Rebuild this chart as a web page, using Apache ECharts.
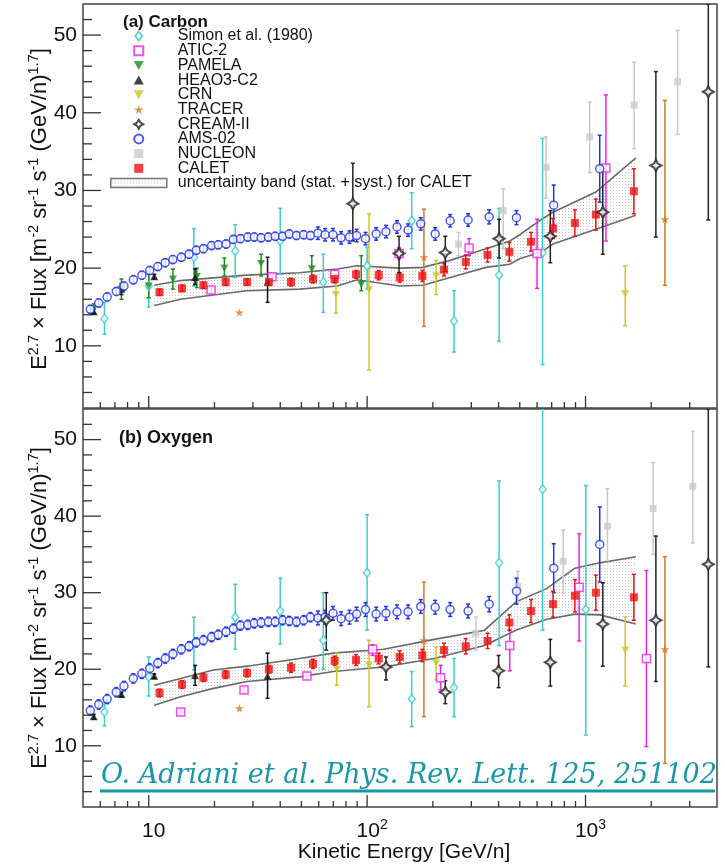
<!DOCTYPE html>
<html><head><meta charset="utf-8">
<script src="https://cdn.jsdelivr.net/npm/echarts@6/dist/echarts.min.js"></script>
<style>html,body{margin:0;padding:0;background:#fff}#c{width:725px;height:865px}</style>
</head><body><div id="c"></div>
<script>
// ---------- DATA ----------
// AMS-02 energies (GeV/n), shared by both panels
const amsE = [5.4,5.9,6.45,7.1,7.7,8.5,9.3,10.1,11.0,11.9,12.9,14.1,15.3,16.5,17.8,19.4,20.8,22.6,24.4,26.3,28.4,30.4,32.7,35.3,37.9,41.0,44.0,47.5,51.2,55.0,59.5,64.2,69.8,76,83,89.5,98.3,110,122,137,154,176,205,240,290,362,483,715,1162];
const amsC = [14.7,15.5,16.3,17.0,17.7,18.5,19.1,19.7,20.2,20.7,21.1,21.4,21.8,22.3,22.5,22.9,23.0,23.1,23.7,23.8,24.0,24.0,23.9,24.0,24.1,24.1,24.4,24.2,24.3,24.2,24.5,24.3,24.3,23.9,24.0,24.2,23.8,24.4,24.7,25.3,24.9,25.7,24.4,26.1,26.2,26.6,26.5,28.1,32.8];
const amsCerr = [0.5,0.5,0.5,0.5,0.5,0.5,0.5,0.5,0.5,0.5,0.5,0.5,0.5,0.5,0.5,0.5,0.5,0.5,0.5,0.5,0.5,0.5,0.5,0.5,0.5,0.5,0.5,0.5,0.5,0.5,0.8,0.8,0.8,0.8,0.8,0.8,0.8,0.8,0.8,0.8,0.8,0.8,0.8,0.8,0.8,0.9,0.9,2.6,4.3];
const amsO = [14.6,15.4,16.1,17.0,17.8,18.8,19.4,20.1,20.8,21.4,22.0,22.6,23.0,23.5,23.8,24.2,24.5,24.9,25.3,25.7,25.8,26.0,26.1,26.2,26.2,26.4,26.3,26.2,26.4,26.8,26.7,26.8,27.3,26.6,26.8,27.2,27.8,27.2,27.3,27.5,27.5,28.2,28.1,27.8,27.6,28.5,30.2,33.2,36.3];
const amsOerr = [0.6,0.6,0.6,0.6,0.6,0.6,0.6,0.6,0.6,0.6,0.6,0.6,0.6,0.6,0.6,0.6,0.6,0.6,0.6,0.6,0.6,0.6,0.6,0.6,0.6,0.6,0.6,0.6,0.6,0.6,0.9,0.9,0.9,0.9,0.9,0.9,0.9,0.9,0.9,0.9,0.9,0.9,0.9,0.9,0.9,1.0,1.7,3.2,4.9];

// CALET
const caletE = [11.2,14.2,17.8,22.5,28.2,35.5,44.8,56.5,71,89,113,141,179,225,283,356,448,563,710,894,1115,1665];
const caletC = [16.9,17.4,17.8,18.2,18.2,18.2,18.2,18.6,18.6,19.2,19.1,18.8,19.0,19.8,20.8,21.7,22.1,23.4,25.1,25.8,26.9,29.9];
const caletCerr = [0.4,0.4,0.4,0.4,0.4,0.4,0.5,0.5,0.5,0.5,0.6,0.6,0.7,0.8,0.9,0.9,1.2,1.2,1.3,1.7,2.0,2.9];
const caletO = [16.9,18.0,18.9,19.3,19.5,20.0,20.2,20.7,21.1,21.2,21.4,21.6,21.8,22.5,23.0,23.7,26.1,27.6,28.5,29.6,30.0,29.4];
const caletOerr = [0.5,0.5,0.5,0.5,0.5,0.5,0.6,0.6,0.6,0.7,0.7,0.8,0.8,0.9,1.0,1.0,1.0,1.5,1.7,2.1,2.3,3.0];

// CALET uncertainty bands
const bandCE = [10.6,14,28,49,73,90,141,180,240,350,450,500,630,710,1115,1700];
const bandClo = [15.2,16.0,17.1,17.3,17.7,18.5,17.7,17.8,18.8,20.1,20.5,21.2,22.1,23.1,25.0,26.8];
const bandChi = [17.8,18.4,19.1,19.4,19.9,20.3,20.0,20.1,21.0,22.5,23.5,24.3,26.3,27.2,29.8,34.2];
const bandOE = [10.6,14,19.8,28.2,49,70,119,203,345,480,660,894,1162,1700];
const bandOlo = [15.3,16.4,17.5,18.4,19.0,19.7,20.3,21.4,23.1,25.1,26.5,27.2,27.1,25.9];
const bandOhi = [17.9,18.8,19.9,20.4,21.4,22.1,22.6,23.9,25.1,28.8,30.5,33.2,33.9,34.7];

// Simon et al. (1980)
const simonCE = [6.27,10,16.1,24.9,40,63,100,160,250,402,636];
const simonC = [13.5,17.7,21.4,22.2,23.5,18.2,20.3,26.1,13.2,19.1,22.0];
const simonClo = [11.5,15.0,17.7,18.8,19.2,14.3,17.3,22.5,9.2,10.6,7.6];
const simonChi = [15.6,19.6,25.1,25.6,27.7,21.8,22.7,29.7,17.1,27.7,36.7];
const simonOE = [6.27,10,16.1,24.9,40,63,100,160,250,402,636,1003];
const simonO = [14.4,19.0,23.4,26.8,27.6,23.8,32.6,16.1,17.6,33.9,43.5,27.8];
const simonOlo = [12.6,16.5,19.9,22.6,23.3,20.0,25.1,12.5,13.8,23.1,25.1,11.4];
const simonOhi = [16.2,21.6,26.8,31.1,31.9,30.0,40.2,19.7,21.4,44.6,60,44.0];

// ATIC-2
const aticCE = [19.3,36.7,71,140,293,600,1240];
const aticC = [17.2,18.9,19.2,21.9,22.6,21.9,32.9];
const aticClo = [16.8,18.5,18.7,21.2,21.6,17.4,23.5];
const aticChi = [17.6,19.3,19.7,22.6,23.8,26.3,42.3];
const aticOE = [14,27.3,53,106,217,450,935,1900];
const aticO = [14.4,17.3,19.1,22.6,18.9,23.1,30.7,21.4];
const aticOlo = [14.0,16.9,18.7,21.8,17.3,19.8,23.7,9.9];
const aticOhi = [14.8,17.7,19.5,23.2,20.5,25.1,37.7,32.9];

// PAMELA (carbon only)
const pamelaCE = [5.6,7.5,10,12.9,16.6,22.2,32.7,55.8,94];
const pamelaC = [14.8,17.3,17.7,18.6,18.9,20.0,20.6,19.9,17.9];
const pamelaClo = [14.2,16.0,16.2,17.3,17.5,19.0,19.0,18.6,17.1];
const pamelaChi = [15.4,18.6,19.2,19.9,20.0,21.3,21.8,21.6,21.6];

// HEAO3-C2
const heaoE = [5.6,7.5,10.6,16.3,35];
const heaoC = [14.4,17.3,18.9,18.8,18.2];
const heaoClo = [14.1,16.6,18.6,17.9,15.6];
const heaoChi = [14.7,18.0,19.2,19.9,21.4];
const heaoO = [13.8,16.7,19.1,19.2,19.1];
const heaoOlo = [13.5,16.4,18.8,17.9,16.2];
const heaoOhi = [14.1,17.0,19.4,20.5,22.1];

// CRN
const crnCE = [72,102,207,1520];
const crnC = [16.6,17.2,19.0,16.7];
const crnClo = [14.2,6.9,16.6,12.6];
const crnChi = [19.3,27.0,21.0,20.3];
const crnOE = [72.6,102,207,1520];
const crnO = [20.0,20.5,20.8,22.5];
const crnOlo = [17.9,15.1,18.6,17.8];
const crnOhi = [22.1,23.8,22.9,26.8];

// TRACER
const tracerE = [26,182,2310];
const tracerC = [14.3,21.4,26.3];
const tracerClo = [14.3,12.5,17.8];
const tracerChi = [14.3,27.6,41.6];
const tracerO = [14.9,23.8,22.6];
const tracerOlo = [14.9,13.8,7.7];
const tracerOhi = [14.9,31.4,34.7];

// CREAM-II
const creamCE = [86,140,228,402,690,1200,2100,3650];
const creamC = [28.3,21.9,22.0,23.8,24.1,27.2,33.2,42.7];
const creamClo = [23.5,19.4,19.6,21.3,20.7,21.8,24.0,26.2];
const creamChi = [33.5,24.1,24.1,26.3,27.4,32.6,45.3,60];
const creamOE = [65,122,228,400,690,1200,2100,3650];
const creamO = [26.4,20.3,17.0,19.8,20.9,25.9,26.4,33.7];
const creamOlo = [22.5,18.6,15.5,17.6,17.8,20.4,18.4,20.3];
const creamOhi = [30.0,21.6,18.5,21.8,23.9,31.3,37.4,60];

// NUCLEON
const nucCE = [262,420,660,1045,1670,2640];
const nucC = [23.1,27.4,33.0,36.9,41.0,44.0];
const nucClo = [21.6,22.5,29.0,32.3,35.4,37.2];
const nucChi = [24.6,30.2,36.9,41.4,46.5,50.6];
const nucOE = [315,490,790,1260,2040,3100];
const nucO = [24.7,30.8,34.1,38.7,41.0,43.9];
const nucOlo = [22.5,28.8,29.9,34.2,35.0,36.5];
const nucOhi = [26.8,32.8,38.2,43.6,47.0,51.1];

// axis tick values
const xMajorTicks = [10,100,1000];
const xMinorTicks = [6,7,8,9,20,30,40,50,60,70,80,90,200,300,400,500,600,700,800,900,2000,3000];
const yMajorTicks = [10,20,30,40,50];
const yMinorTicks = [4,6,8,12,14,16,18,22,24,26,28,32,34,36,38,42,44,46,48,52];

// ---------- CHART ----------
const FONT = 'Liberation Sans, Arial, Helvetica, sans-serif';
const yMin = 2, yMax = 54, xMin = 5, xMax = 4000;
const BAND = 'uncertainty band (stat. + syst.) for CALET';

const pc = document.createElement('canvas');
pc.width = 3; pc.height = 3;
(function(){ const c = pc.getContext('2d'); c.fillStyle = '#ffffff'; c.fillRect(0,0,3,3); c.fillStyle = '#c6c6c6'; c.fillRect(1,1,1,1); })();
const dotFill = {image: pc, repeat: 'repeat'};

const ST = {
  simon:  {sym:'path://M5,0 L10,6.5 L5,13 L0,6.5 Z', size:9, color:'#3fcccc', open:true},
  atic:   {sym:'path://M0,0 L10,0 L10,10 L0,10 Z', size:8, color:'#ee22ee', open:true},
  pamela: {sym:'path://M0,0 L10,0 L5,9 Z', size:8, color:'#1e8c1e'},
  heao:   {sym:'path://M5,0 L10,9 L0,9 Z', size:8, color:'#111111'},
  crn:    {sym:'path://M0,0 L10,0 L5,9 Z', size:8, color:'#c8c82a'},
  tracer: {sym:'path://M50,0 L61,35 L98,35 L68,57 L79,91 L50,70 L21,91 L32,57 L2,35 L39,35 Z', size:9, color:'#d4782a'},
  cream:  {sym:'path://M50,0 L68,32 L100,50 L68,68 L50,100 L32,68 L0,50 L32,32 Z', size:11, color:'#222222', open:true, bw:2},
  ams:    {sym:'circle', size:8, color:'#2233dd', open:true},
  nuc:    {sym:'path://M0,0 L10,0 L10,10 L0,10 Z', size:7, color:'#c9c9c9'},
  calet:  {sym:'path://M0,0 L10,0 L10,10 L0,10 Z', size:8, color:'#ee1111'}
};

function sym(v, err, s){ return v.map((x,i)=>+(x + s*err[i]).toFixed(2)); }

function errSeries(g, E, lo, hi, color, w) {
  return {type:'custom', xAxisIndex:g, yAxisIndex:g, silent:true, clip:true, z:3,
    data: E.map((e,i)=>[e, lo[i], hi[i]]), encode:{x:0, y:[1,2]},
    renderItem:(p, api)=>{
      const e = api.value(0), a = Math.max(api.value(1), yMin), b = Math.min(api.value(2), yMax);
      if (b - a < 0.05) return null;
      const p1 = api.coord([e,a]), p2 = api.coord([e,b]), c = 2;
      const st = {stroke:color, lineWidth:w};
      return {type:'group', children:[
        {type:'line', shape:{x1:p1[0],y1:p1[1],x2:p2[0],y2:p2[1]}, style:st},
        {type:'line', shape:{x1:p1[0]-c,y1:p1[1],x2:p1[0]+c,y2:p1[1]}, style:st},
        {type:'line', shape:{x1:p2[0]-c,y1:p2[1],x2:p2[0]+c,y2:p2[1]}, style:st}
      ]};
    }};
}

function dataset(g, name, E, v, lo, hi, st) {
  return [errSeries(g, E, lo, hi, st.color, 1.5),
    {type:'scatter', name:name, xAxisIndex:g, yAxisIndex:g, symbol:st.sym, symbolSize:st.size, symbolKeepAspect:true,
     itemStyle: st.open ? {color:'#ffffff', borderColor:st.color, borderWidth:st.bw||1.5} : {color:st.color, borderWidth:0},
     data: E.map((e,i)=>[e, v[i]]), z:4}];
}

function bandSeries(g, E, lo, hi) {
  return {type:'custom', name:BAND, xAxisIndex:g, yAxisIndex:g, silent:true, z:2,
    data: E.map((e,i)=>[e, lo[i], hi[i]]), encode:{x:0, y:[1,2]},
    renderItem:(p, api)=>{
      if (p.dataIndex !== 0) return null;
      const up = E.map((e,i)=>api.coord([e, hi[i]]));
      const dn = E.map((e,i)=>api.coord([e, lo[i]]));
      const ls = {stroke:'#6a6a6a', lineWidth:1.6, fill:null};
      return {type:'group', children:[
        {type:'polygon', shape:{points: up.concat(dn.slice().reverse())}, style:{fill:dotFill, stroke:null}},
        {type:'polyline', shape:{points:up}, style:ls},
        {type:'polyline', shape:{points:dn}, style:ls}
      ]};
    }};
}

function tickSeries(g) {
  const xd = xMajorTicks.map(t=>[t, yMin, 1]).concat(xMinorTicks.map(t=>[t, yMin, 0]));
  const yd = yMajorTicks.map(t=>[xMin, t, 1]).concat(yMinorTicks.map(t=>[xMin, t, 0]));
  const st = {stroke:'#333333', lineWidth:1.3};
  return [
    {type:'custom', xAxisIndex:g, yAxisIndex:g, silent:true, z:6, data:xd, encode:{x:0,y:1},
     renderItem:(p, api)=>{ const q = api.coord([api.value(0), yMin]); const L = api.value(2) ? 12 : 6;
       return {type:'line', shape:{x1:q[0],y1:q[1],x2:q[0],y2:q[1]-L}, style:st}; }},
    {type:'custom', xAxisIndex:g, yAxisIndex:g, silent:true, z:6, data:yd, encode:{x:0,y:1},
     renderItem:(p, api)=>{ const q = api.coord([xMin, api.value(1)]); const L = api.value(2) ? 18 : 9;
       return {type:'line', shape:{x1:q[0],y1:q[1],x2:q[0]+L,y2:q[1]}, style:st}; }}
  ];
}

function panel(g, d) {
  let s = [bandSeries(g, d.bE, d.bLo, d.bHi)];
  s = s.concat(dataset(g, 'Simon et al. (1980)', d.simonE, d.simon, d.simonLo, d.simonHi, ST.simon));
  s = s.concat(dataset(g, 'ATIC-2', d.aticE, d.atic, d.aticLo, d.aticHi, ST.atic));
  if (d.pamela) s = s.concat(dataset(g, 'PAMELA', pamelaCE, pamelaC, pamelaClo, pamelaChi, ST.pamela));
  s = s.concat(dataset(g, 'HEAO3-C2', heaoE, d.heao, d.heaoLo, d.heaoHi, ST.heao));
  s = s.concat(dataset(g, 'CRN', d.crnE, d.crn, d.crnLo, d.crnHi, ST.crn));
  s = s.concat(dataset(g, 'TRACER', tracerE, d.tracer, d.tracerLo, d.tracerHi, ST.tracer));
  s = s.concat(dataset(g, 'NUCLEON', d.nucE, d.nuc, d.nucLo, d.nucHi, ST.nuc));
  s = s.concat(dataset(g, 'AMS-02', amsE, d.ams, sym(d.ams, d.amsErr, -1), sym(d.ams, d.amsErr, 1), ST.ams));
  s = s.concat(dataset(g, 'CALET', caletE, d.calet, sym(d.calet, d.caletErr, -1), sym(d.calet, d.caletErr, 1), ST.calet));
  s = s.concat(dataset(g, 'CREAM-II', d.creamE, d.cream, d.creamLo, d.creamHi, ST.cream));
  return s.concat(tickSeries(g));
}

const series = panel(0, {bE:bandCE, bLo:bandClo, bHi:bandChi, simonE:simonCE, simon:simonC, simonLo:simonClo, simonHi:simonChi,
  aticE:aticCE, atic:aticC, aticLo:aticClo, aticHi:aticChi, pamela:true, heao:heaoC, heaoLo:heaoClo, heaoHi:heaoChi,
  crnE:crnCE, crn:crnC, crnLo:crnClo, crnHi:crnChi, tracer:tracerC, tracerLo:tracerClo, tracerHi:tracerChi,
  nucE:nucCE, nuc:nucC, nucLo:nucClo, nucHi:nucChi, ams:amsC, amsErr:amsCerr, calet:caletC, caletErr:caletCerr,
  creamE:creamCE, cream:creamC, creamLo:creamClo, creamHi:creamChi})
 .concat(panel(1, {bE:bandOE, bLo:bandOlo, bHi:bandOhi, simonE:simonOE, simon:simonO, simonLo:simonOlo, simonHi:simonOhi,
  aticE:aticOE, atic:aticO, aticLo:aticOlo, aticHi:aticOhi, pamela:false, heao:heaoO, heaoLo:heaoOlo, heaoHi:heaoOhi,
  crnE:crnOE, crn:crnO, crnLo:crnOlo, crnHi:crnOhi, tracer:tracerO, tracerLo:tracerOlo, tracerHi:tracerOhi,
  nucE:nucOE, nuc:nucO, nucLo:nucOlo, nucHi:nucOhi, ams:amsO, amsErr:amsOerr, calet:caletO, caletErr:caletOerr,
  creamE:creamOE, cream:creamO, creamLo:creamOlo, creamHi:creamOhi}));

function xAxisCfg(g, showLabels) {
  return {type:'log', logBase:10, gridIndex:g, min:xMin, max:xMax,
    axisLine:{show:false}, axisTick:{show:false}, splitLine:{show:false}, minorTick:{show:false},
    axisLabel:{show:showLabels, margin:11, color:'#111', fontFamily:FONT, padding:[0,0,0,10],
      showMinLabel:false, showMaxLabel:false,
      formatter:(v)=>{ const l = Math.log10(v), r = Math.round(l);
        if (Math.abs(l - r) > 1e-6) return '';
        return r === 1 ? '{n|10}' : '{n|10}{s|' + r + '}'; },
      rich:{n:{fontSize:21, lineHeight:26, fontFamily:FONT, color:'#111'}, s:{fontSize:14, lineHeight:14, verticalAlign:'top', fontFamily:FONT, color:'#111'}}}};
}
function yAxisCfg(g) {
  return {type:'value', gridIndex:g, min:yMin, max:yMax, interval:2,
    axisLine:{show:false}, axisTick:{show:false}, splitLine:{show:false},
    axisLabel:{margin:6, fontSize:21, color:'#111', fontFamily:FONT, formatter:(v)=> v % 10 === 0 ? String(v) : ''}};
}

const ytitle = '{n|E}{s|2.7}{n| × Flux [m}{s|-2}{n| sr}{s|-1}{n| s}{s|-1}{n| (GeV/n)}{s|1.7}{n|]}';
const ytRich = {n:{fontSize:22, lineHeight:27, fontFamily:FONT, fill:'#111'}, s:{fontSize:14.5, lineHeight:14, verticalAlign:'top', fontFamily:FONT, fill:'#111'}};

const chart = echarts.init(document.getElementById('c'), null, {renderer:'canvas'});
chart.setOption({
  animation:false,
  backgroundColor:'#ffffff',
  textStyle:{fontFamily:FONT},
  grid:[
    {left:83, top:4, width:634, height:404, show:true, borderColor:'#444', borderWidth:1.5, backgroundColor:'transparent', containLabel:false, outerBoundsMode:'none'},
    {left:83, top:409, width:634, height:398, show:true, borderColor:'#444', borderWidth:1.5, backgroundColor:'transparent', containLabel:false, outerBoundsMode:'none'}
  ],
  xAxis:[xAxisCfg(0, false), xAxisCfg(1, true)],
  yAxis:[yAxisCfg(0), yAxisCfg(1)],
  legend:{orient:'vertical', left:110, top:28, padding:0, itemWidth:56, itemHeight:9, itemGap:-1.3, selectedMode:false,
    textStyle:{fontSize:16, fontFamily:FONT, color:'#111', padding:[0,0,0,6]},
    data:['Simon et al. (1980)','ATIC-2','PAMELA','HEAO3-C2','CRN','TRACER','CREAM-II','AMS-02','NUCLEON','CALET',
      {name:BAND, icon:'rect', itemStyle:{color:dotFill, borderColor:'#777', borderWidth:1.5}}]},
  graphic:[
    {type:'text', x:123, y:22, z:50, style:{text:'(a) Carbon', fontSize:17, fontWeight:'bold', fontFamily:FONT, fill:'#111', verticalAlign:'middle'}},
    {type:'text', x:119, y:438, z:50, style:{text:'(b) Oxygen', fontSize:18, fontWeight:'bold', fontFamily:FONT, fill:'#111', verticalAlign:'middle'}},
    {type:'text', x:40, y:209, rotation:Math.PI/2, z:50, style:{text:ytitle, rich:ytRich, align:'center', verticalAlign:'middle'}},
    {type:'text', x:40, y:608, rotation:Math.PI/2, z:50, style:{text:ytitle, rich:ytRich, align:'center', verticalAlign:'middle'}},
    {type:'text', x:404, y:852, z:50, style:{text:'Kinetic Energy [GeV/n]', fontSize:21, fontFamily:FONT, fill:'#111', align:'center', verticalAlign:'middle'}},
    {type:'text', x:101, y:776, z:100, style:{text:'O. Adriani et al. Phys. Rev. Lett. 125, 251102', fontSize:27, fontStyle:'italic', fontFamily:'DejaVu Serif', fill:'#1b97a4', align:'left', verticalAlign:'middle'}},
    {type:'rect', z:100, shape:{x:100, y:789.5, width:615, height:3}, style:{fill:'#1b97a4'}}
  ],
  series: series
});
</script>
</body></html>
